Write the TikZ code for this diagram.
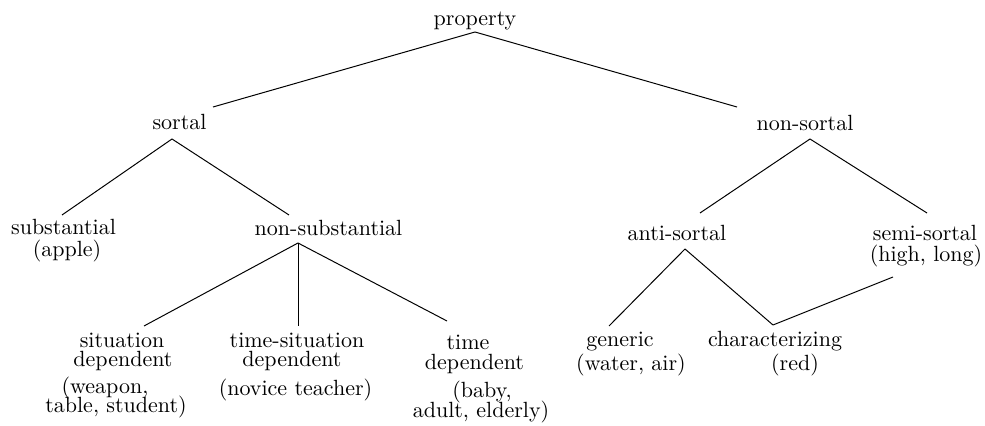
\documentclass[tikz,border=0pt]{standalone}
\begin{document}
\begin{tikzpicture}[x=0.4545pt,y=-0.4545pt,
  lbl/.style={anchor=base,inner sep=0pt,outer sep=0pt,font=\fontsize{10}{12}\selectfont},
  edge/.style={line width=0.45pt,black}]
\useasboundingbox (0,0) rectangle (985,426);
% level 0
\node[lbl] (prop) at (475,26) {property};
% level 1
\node[lbl] (sortal) at (179.5,130) {sortal};
\node[lbl] (nonsortal) at (805,131) {non-sortal};
% level 2
\node[lbl] (subst) at (63.5,235) {substantial};
\node[lbl] (apple) at (67,256.5) {(apple)};
\node[lbl] (nonsubst) at (328.5,236) {non-substantial};
\node[lbl] (anti) at (677,241) {anti-sortal};
\node[lbl] (semi) at (925,241) {semi-sortal};
\node[lbl] (highlong) at (926,262) {(high, long)};
% level 3
\node[lbl] (sit) at (122,348) {situation};
\node[lbl] (sitdep) at (123,367) {dependent};
\node[lbl] (weapon) at (105,394) {(weapon,};
\node[lbl] (table) at (116,413) {table, student)};
\node[lbl] (ts) at (297,348) {time-situation};
\node[lbl] (tsdep) at (292,367) {dependent};
\node[lbl] (novice) at (295.5,396) {(novice teacher)};
\node[lbl] (time) at (468,350) {time};
\node[lbl] (timedep) at (474.5,370) {dependent};
\node[lbl] (baby) at (482,398) {(baby,};
\node[lbl] (adult) at (481,418) {adult, elderly)};
\node[lbl] (generic) at (620,347) {generic};
\node[lbl] (water) at (631,371) {(water, air)};
\node[lbl] (char) at (775,347) {characterizing};
\node[lbl] (red) at (795,371) {(red)};
% connectors
\draw[edge] ([shift={(0,6)}]prop.base) -- ([shift={(33.5,-23)}]sortal.base);
\draw[edge] ([shift={(0,6)}]prop.base) -- ([shift={(-68,-24)}]nonsortal.base);
\draw[edge] ([shift={(-7.5,9)}]sortal.base) -- ([shift={(-1.5,-20)}]subst.base);
\draw[edge] ([shift={(-7.5,9)}]sortal.base) -- ([shift={(-39.5,-21)}]nonsubst.base);
\draw[edge] ([shift={(5,8)}]nonsortal.base) -- ([shift={(23,-28)}]anti.base);
\draw[edge] ([shift={(5,8)}]nonsortal.base) -- ([shift={(2,-28)}]semi.base);
\draw[edge] ([shift={(-30.5,7)}]nonsubst.base) -- ([shift={(22,-22)}]sit.base);
\draw[edge] ([shift={(-30.5,7)}]nonsubst.base) -- ([shift={(1,-22)}]ts.base);
\draw[edge] ([shift={(-30.5,7)}]nonsubst.base) -- ([shift={(-21,-29)}]time.base);
\draw[edge] ([shift={(8,8)}]anti.base) -- ([shift={(-11,-21)}]generic.base);
\draw[edge] ([shift={(8,8)}]anti.base) -- ([shift={(-2,-22)}]char.base);
\draw[edge] ([shift={(-33,15)}]highlong.base) -- ([shift={(-2,-22)}]char.base);
\end{tikzpicture}
\end{document}
